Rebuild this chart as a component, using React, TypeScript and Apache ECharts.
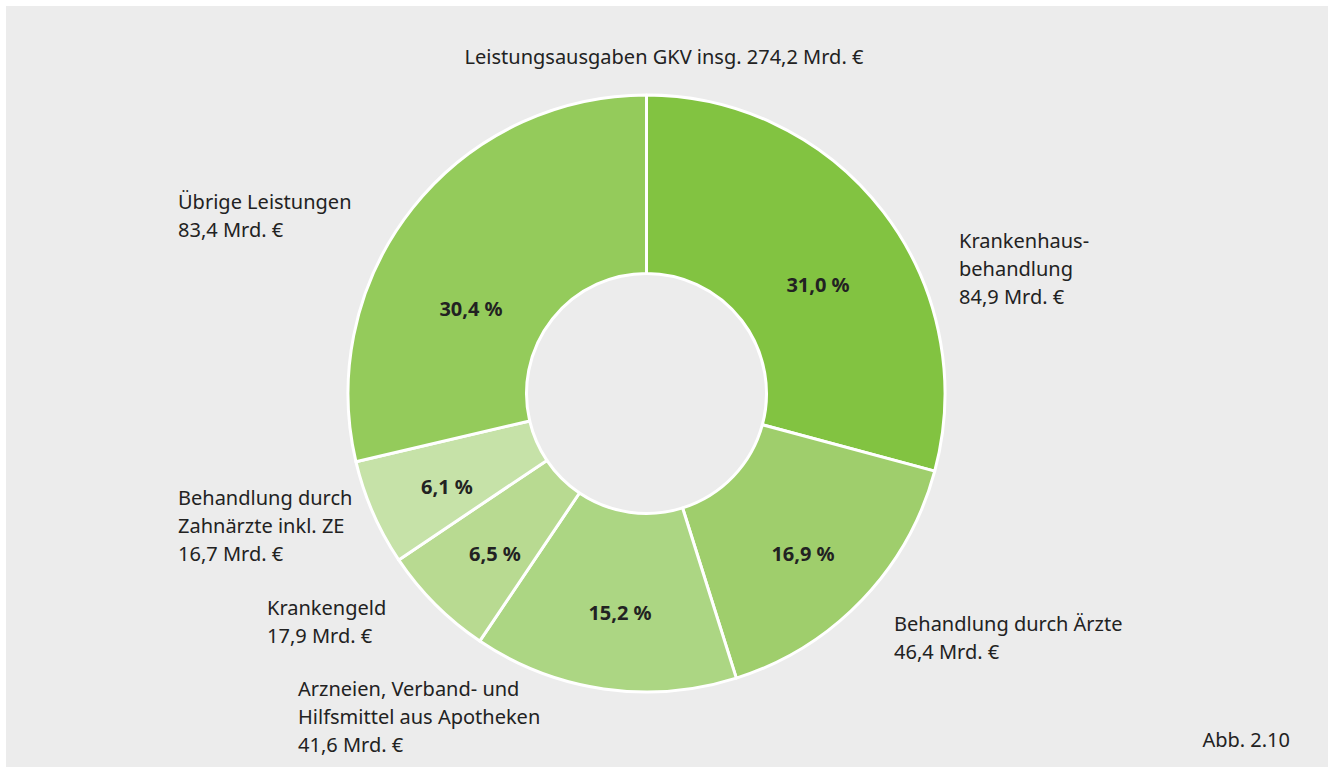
import React, { useEffect, useRef } from "react";
import * as echarts from "echarts";

const categories = [
  "Krankenhaus-\nbehandlung",
  "Behandlung durch Ärzte",
  "Arzneien, Verband- und\nHilfsmittel aus Apotheken",
  "Krankengeld",
  "Behandlung durch\nZahnärzte inkl. ZE",
  "Übrige Leistungen",
];
const valuesBn = [84.9, 46.4, 41.6, 17.9, 16.7, 83.4];
const shares = ["31,0", "16,9", "15,2", "6,5", "6,1", "30,4"];
const total = "274,2";
const title = `Leistungsausgaben GKV insg. ${total} Mrd. €`;
const footnote = "Abb. 2.10";

const colors = ["#82c341", "#9fce6c", "#acd683", "#b8da91", "#c6e2a8", "#94cb5b"];

// label anchor positions (layout only)
const outerPos = [
  { x: 959, y: 226 },
  { x: 894, y: 609 },
  { x: 298, y: 674 },
  { x: 267, y: 593 },
  { x: 178, y: 483 },
  { x: 178, y: 187 },
];
const innerPos = [
  { x: 818, y: 284 },
  { x: 803, y: 553 },
  { x: 620, y: 612 },
  { x: 495, y: 553 },
  { x: 447, y: 486 },
  { x: 471, y: 308 },
];

const FONT = "'Noto Sans', sans-serif";
const FS = 20;

export default function App() {
  const ref = useRef<HTMLDivElement>(null);
  useEffect(() => {
    const el = ref.current!;
    const chart = echarts.init(el, undefined, { renderer: "svg" });
    const fmt = (v: number) => v.toFixed(1).replace(".", ",");
    const data = categories.map((name, i) => ({
      name,
      value: valuesBn[i],
      itemStyle: { color: colors[i] },
    }));
    chart.setOption({
      animation: false,
      backgroundColor: "#ffffff",
      graphic: [
        {
          type: "rect",
          z: -10,
          silent: true,
          shape: { x: 6, y: 6, width: 1322, height: 761 },
          style: { fill: "#ececec" },
        },
        {
          type: "text",
          x: 664,
          y: 56,
          style: {
            text: title,
            fill: "#222222",
            font: `${FS}px ${FONT}`,
            align: "center",
            verticalAlign: "middle",
          },
        },
        {
          type: "text",
          x: 1290,
          y: 739,
          style: {
            text: footnote,
            fill: "#222222",
            font: `${FS}px ${FONT}`,
            align: "right",
            verticalAlign: "middle",
          },
        },
      ],
      series: [
        {
          type: "pie",
          center: [646.5, 393.5],
          radius: [120, 298.5],
          startAngle: 90,
          clockwise: true,
          silent: true,
          data,
          itemStyle: { borderColor: "#ffffff", borderWidth: 3 },
          label: {
            show: true,
            position: "inside",
            formatter: (p: any) => `${shares[p.dataIndex]} %`,
            color: "#222222",
            fontFamily: FONT,
            fontWeight: "bold",
            fontSize: FS,
          },
          labelLine: { show: false },
          labelLayout: (p: any) => ({
            x: innerPos[p.dataIndex].x,
            y: innerPos[p.dataIndex].y,
            align: "center",
            verticalAlign: "middle",
          }),
        },
        {
          type: "pie",
          center: [646.5, 393.5],
          radius: [120, 298.5],
          startAngle: 90,
          clockwise: true,
          silent: true,
          data: data.map((d) => ({ ...d, itemStyle: { color: "transparent" } })),
          itemStyle: { borderWidth: 0 },
          label: {
            show: true,
            position: "outside",
            formatter: (p: any) => `${p.name}\n${fmt(p.value)} Mrd. €`,
            color: "#222222",
            fontFamily: FONT,
            fontSize: FS,
            lineHeight: 28,
            align: "left",
          },
          labelLine: { show: false },
          labelLayout: (p: any) => ({
            x: outerPos[p.dataIndex].x,
            y: outerPos[p.dataIndex].y,
            align: "left",
            verticalAlign: "top",
          }),
        },
      ],
    });
    return () => chart.dispose();
  }, []);
  return (
    <div
      ref={ref}
      style={{ position: "absolute", left: 0, top: 0, width: 1328, height: 767 }}
    />
  );
}
